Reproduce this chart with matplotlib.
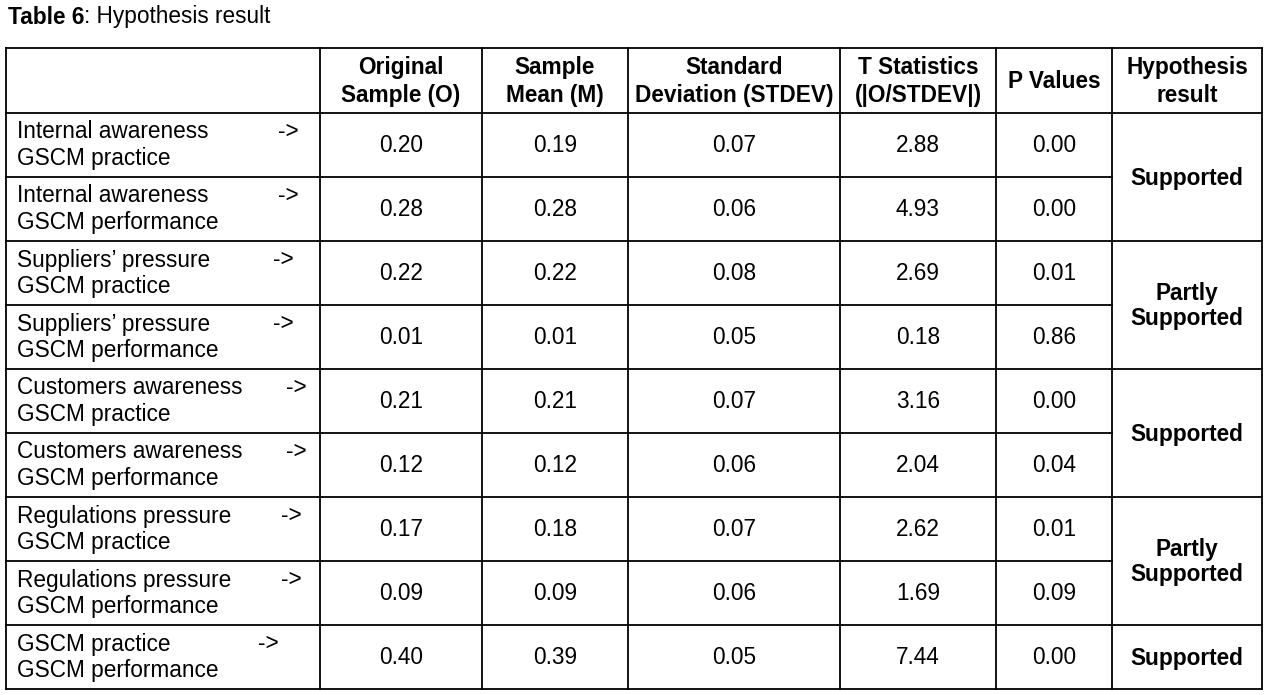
import matplotlib.pyplot as plt

plt.rcParams['font.family'] = ['Liberation Sans', 'DejaVu Sans']

headers = ["", "Original\nSample (O)", "Sample\nMean (M)", "Standard\nDeviation (STDEV)",
           "T Statistics\n(|O/STDEV|)", "P Values", "Hypothesis\nresult"]
sources = ["Internal awareness", "Internal awareness", "Suppliers\u2019 pressure", "Suppliers\u2019 pressure",
           "Customers awareness", "Customers awareness", "Regulations pressure", "Regulations pressure",
           "GSCM practice"]
targets = ["GSCM practice", "GSCM performance"] * 4 + ["GSCM performance"]
original = [0.20, 0.28, 0.22, 0.01, 0.21, 0.12, 0.17, 0.09, 0.40]
mean = [0.19, 0.28, 0.22, 0.01, 0.21, 0.12, 0.18, 0.09, 0.39]
stdev = [0.07, 0.06, 0.08, 0.05, 0.07, 0.06, 0.07, 0.06, 0.05]
tstat = [2.88, 4.93, 2.69, 0.18, 3.16, 2.04, 2.62, 1.69, 7.44]
pvals = [0.00, 0.00, 0.01, 0.86, 0.00, 0.04, 0.01, 0.09, 0.00]
# hypothesis result groups: (first row, last row, label)
results = [(0, 1, "Supported"), (2, 3, "Partly\nSupported"), (4, 5, "Supported"),
           (6, 7, "Partly\nSupported"), (8, 8, "Supported")]

# layout in pixels
col_x = [6, 320, 482, 628, 840, 996, 1112, 1262]
arrow_x = [278, 278, 273, 273, 286, 286, 281, 281, 258]
top, head_h, row_h = 48, 65, 64
fs = 16.3

fig = plt.figure(figsize=(12.72, 6.95), dpi=100)
ax = fig.add_axes([0, 0, 1, 1])
ax.set_xlim(0, 1272)
ax.set_ylim(695, 0)
ax.axis("off")

t = ax.text(8, 17, "Table 6", fontsize=fs, fontweight="bold", va="center", ha="left")
fig.canvas.draw()
bb = t.get_window_extent()
ax.text(bb.x1, 17, ": Hypothesis result", fontsize=fs, va="center", ha="left")

n = len(sources)
row_y = [top + head_h + i * row_h for i in range(n + 1)]
bottom = row_y[-1]
lw = 1.3

# outer + vertical lines
for x in col_x:
    ax.plot([x, x], [top, bottom], color="black", lw=lw)
ax.plot([col_x[0], col_x[-1]], [top, top], color="black", lw=lw)
ax.plot([col_x[0], col_x[-1]], [bottom, bottom], color="black", lw=lw)

# horizontal row lines (hypothesis column only at group boundaries)
group_starts = {g[0] for g in results}
for i, y in enumerate(row_y[:-1]):
    ax.plot([col_x[0], col_x[-2]], [y, y], color="black", lw=lw)
    if i in group_starts:
        ax.plot([col_x[-2], col_x[-1]], [y, y], color="black", lw=lw)

# headers
for j, h in enumerate(headers):
    if h:
        ax.text((col_x[j] + col_x[j + 1]) / 2, top + head_h / 2 + 1, h, fontsize=fs,
                fontweight="bold", ha="center", va="center", linespacing=1.25)

# body
for i in range(n):
    y0 = row_y[i]
    ax.text(17, y0 + 19, sources[i], fontsize=fs, ha="left", va="center")
    ax.text(arrow_x[i], y0 + 18, "->", fontsize=fs, ha="left", va="center")
    ax.text(17, y0 + 46, targets[i], fontsize=fs, ha="left", va="center")
    vals = [original[i], mean[i], stdev[i], tstat[i], pvals[i]]
    for j, v in enumerate(vals):
        ax.text((col_x[j + 1] + col_x[j + 2]) / 2, y0 + row_h / 2 + 1, f"{v:.2f}",
                fontsize=fs, ha="center", va="center")

for a, b, label in results:
    yc = (row_y[a] + row_y[b + 1]) / 2 + 1
    ax.text((col_x[-2] + col_x[-1]) / 2, yc, label, fontsize=fs, fontweight="bold",
            ha="center", va="center", linespacing=1.15)

fig.savefig("out.png", dpi=100)
